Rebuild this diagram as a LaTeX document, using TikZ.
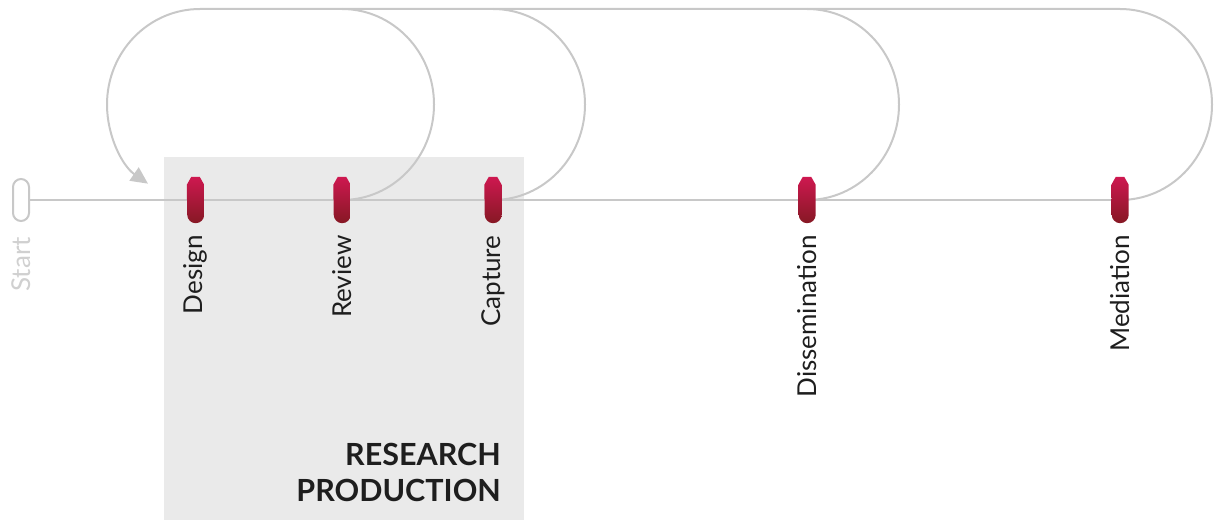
\documentclass[tikz,border=0pt]{standalone}
\usepackage{fontspec}
\setmainfont{Lato}
\usetikzlibrary{positioning, arrows.meta, calc}
\definecolor{loopgrey}{RGB}{200, 200, 200}
\definecolor{panelgrey}{RGB}{234, 234, 234}
\definecolor{stoptop}{RGB}{206, 24, 80}
\definecolor{stopbottom}{RGB}{134, 24, 36}
\definecolor{labeltext}{RGB}{30, 30, 30}
\definecolor{startgrey}{RGB}{208, 208, 208}

% red marker drawn over a named stop node
\newcommand{\stopshape}[1]{%
  \shade[top color=stoptop, bottom color=stopbottom]
    ([yshift=-8pt]#1.north west) -- ([xshift=4.5pt]#1.north west)
    -- ([xshift=-4.5pt]#1.north east) -- ([yshift=-8pt]#1.north east)
    -- ([yshift=8.5pt]#1.south east) arc (0:-180:8.5pt) -- cycle;}

\begin{document}
\begin{tikzpicture}[
    x=1pt, y=1pt,
    stop/.style={
      rectangle, minimum width=17pt, minimum height=46pt, inner sep=0pt
    },
    startstop/.style={
      rectangle, draw=loopgrey, line width=2pt, rounded corners=8pt,
      minimum width=16pt, minimum height=42pt, inner sep=0pt
    },
    stoplabel/.style={
      rotate=90, inner sep=0pt, text=labeltext,
      font=\fontsize{26}{30}\selectfont
    },
    loop/.style={draw=loopgrey, line width=2pt},
    node distance=12pt,
]
    \useasboundingbox (0,0) rectangle (1214,520);

    % Production panel
    \fill[panelgrey] (164,0) rectangle (524,363);
    \node[anchor=south east, align=right, inner sep=0pt, text=labeltext,
      font=\bfseries\fontsize{30.5}{36}\selectfont] (title) at (501,18)
      {RESEARCH\\PRODUCTION};

    % Stops
    \node[startstop] (start) at (21,320) {};
    \node[stop] (design) at (195.5,320) {};
    \node[stop] (review) at (342,320) {};
    \node[stop] (capture) at (493,320) {};
    \node[stop] (dissemination) at (807,320) {};
    \node[stop] (mediation) at (1120,320) {};
    \coordinate (topleft) at (200,511);

    % Track and loops
    \draw[loop] (start.east) -- (mediation.center);
    \foreach \s in {review, capture, dissemination}
      \draw[loop] (\s.center) arc (-90:90:92 and 95.5);
    \draw[loop, -{Triangle[length=17pt, width=16pt]}]
      (mediation.center) arc (-90:90:92 and 95.5) -- (topleft)
      arc (90:236:93 and 95.5);

    % Markers
    \foreach \s in {design, review, capture, dissemination, mediation}
      \stopshape{\s};

    % Labels
    \node[stoplabel, below=15pt of start, anchor=east, text=startgrey] {Start};
    \node[stoplabel, below=of design, anchor=east] {Design};
    \node[stoplabel, below=of review, anchor=east] {Review};
    \node[stoplabel, below=of capture, anchor=east] {Capture};
    \node[stoplabel, below=of dissemination, anchor=east] {Dissemination};
    \node[stoplabel, below=of mediation, anchor=east] {Mediation};
\end{tikzpicture}
\end{document}
